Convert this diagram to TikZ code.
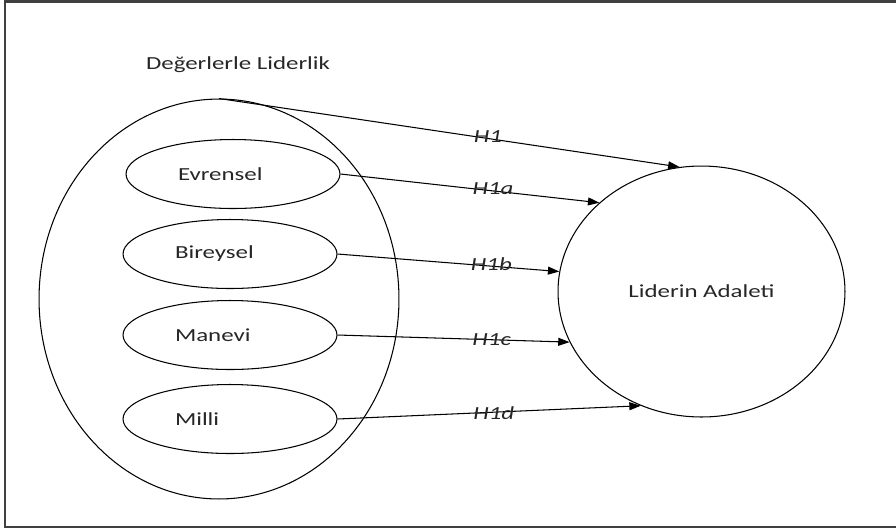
\documentclass[tikz,border=0pt]{standalone}
\usepackage{fontspec}
\setmainfont[FakeStretch=1.35]{Carlito}
\usetikzlibrary{arrows.meta,shapes.geometric}

\begin{document}
\begin{tikzpicture}[x={(0.02cm,0)}, y={(0,-0.02cm)}, line width=0.6pt,
    every node/.style={font=\fontsize{10.5}{12}\selectfont, text=black!85},
    item/.style={ellipse, draw, minimum width=4.28cm, minimum height=1.38cm,
        text width=2.2cm, align=left, inner sep=0pt},
    hyp/.style={-{Triangle[length=6.5pt,width=4.5pt]}},
    hlabel/.style={font=\fontsize{10.5}{12}\selectfont\itshape, inner sep=0pt, anchor=west}]
    % Page size and frame
    \useasboundingbox (0,0) rectangle (896,529);
    \draw[line width=1.2pt, black!75] (5,1.5) rectangle (905,527);

    % Outer construct with its title
    \node (title) at (238,65) {Değerlerle Liderlik};
    \node[ellipse, draw, minimum width=7.2cm, minimum height=8cm] (values) at (219,299) {};

    % Sub-dimensions
    \node[item] (evrensel) at (233,174) {Evrensel};
    \node[item] (bireysel) at (230,254) {Bireysel};
    \node[item] (manevi) at (230,335) {Manevi};
    \node[item] (milli) at (230,419) {Milli};

    % Dependent construct
    \node[ellipse, draw, minimum width=5.74cm, minimum height=5.02cm] (justice) at (701.5,291.5) {Liderin Adaleti};

    % Hypotheses
    \draw[hyp] (values.north) -- node[hlabel, pos=0.552] (h1) {H1} (justice.100.7);
    \draw[hyp] (evrensel.east) -- node[hlabel, pos=0.508] (h1a) {H1a} (justice.139);
    \draw[hyp] (bireysel.east) -- node[hlabel, pos=0.599] (h1b) {H1b} (justice.172.2);
    \draw[hyp] (manevi.east) -- node[hlabel, pos=0.579] (h1c) {H1c} (justice.201.7);
    \draw[hyp] (milli.east) -- node[hlabel, pos=0.446] (h1d) {H1d} (justice.242.7);
\end{tikzpicture}
\end{document}
